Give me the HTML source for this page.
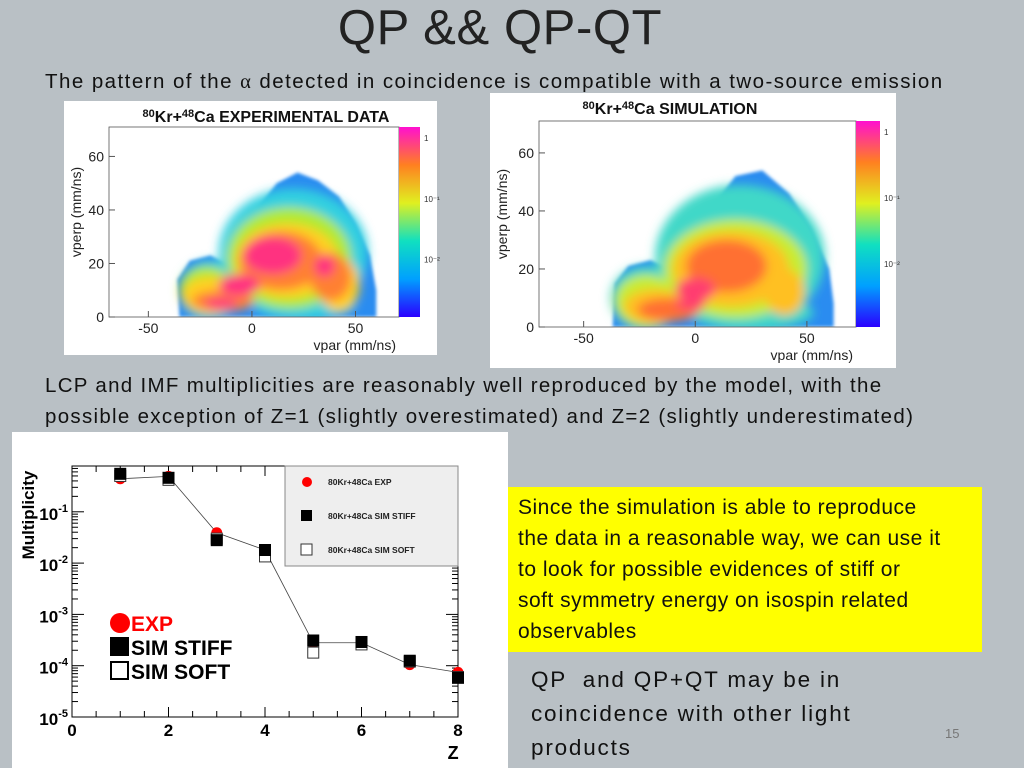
<!DOCTYPE html>
<html><head><meta charset="utf-8"><style>
body{margin:0;width:1024px;height:768px;overflow:hidden;background:#b9c0c5;font-family:"Liberation Sans",sans-serif;position:relative}
.t{position:absolute;color:#111;font-size:20.5px;letter-spacing:1.45px;white-space:nowrap}
</style></head><body>
<div style="position:absolute;left:0;width:1000px;top:0px;text-align:center;font-size:49px;color:#222;letter-spacing:0.6px">QP &amp;&amp; QP-QT</div>
<div class="t" style="left:45px;top:70px">The pattern of the <span style="font-family:'Liberation Serif',serif">α</span> detected in coincidence is compatible with a two-source emission</div>
<div class="t" style="left:45px;top:370px;line-height:31px;letter-spacing:1.3px">LCP and IMF multiplicities are reasonably well reproduced by the model, with the<br>possible exception of Z=1 (slightly overestimated) and Z=2 (slightly underestimated)</div>
<div style="position:absolute;left:508px;top:487px;width:474px;height:165px;background:#ffff00"></div>
<div class="t" style="left:518px;top:492px;line-height:31px;font-size:21px;letter-spacing:0.5px">Since the simulation is able to reproduce<br>the data in a reasonable way, we can use it<br>to look for possible evidences of stiff or<br>soft symmetry energy on isospin related<br>observables</div>
<div class="t" style="left:531px;top:663px;line-height:34px;font-size:22.5px;letter-spacing:1.8px">QP &nbsp;and QP+QT may be in<br>coincidence with other light<br>products</div>
<div style="position:absolute;left:945px;top:726px;font-size:13px;color:#777">15</div>

<svg id="s" width="1024" height="768" style="position:absolute;left:0;top:0">
<defs>
<filter id="bl" x="-50%" y="-50%" width="200%" height="200%"><feGaussianBlur stdDeviation="5"/></filter>
<filter id="bl2" x="-20%" y="-20%" width="140%" height="140%"><feGaussianBlur stdDeviation="1.5"/></filter>
<linearGradient id="cb" x1="0" y1="1" x2="0" y2="0">
<stop offset="0" stop-color="#2a00ff"/><stop offset="0.2" stop-color="#00a0ff"/><stop offset="0.4" stop-color="#10e0c0"/><stop offset="0.6" stop-color="#e0f020"/><stop offset="0.8" stop-color="#ff8020"/><stop offset="1" stop-color="#ff10d0"/></linearGradient>
</defs>
</svg>
<script>
// heatmap data (vpar, vperp in mm/ns)
const envExp=[[-35,0],[-36,14],[-30,21],[-20,23],[-8,18],[-3,30],[4,42],[12,50],[22,54],[32,51],[42,45],[50,35],[57,23],[60,10],[60,0]];
const envSim=[[-37,0],[-36,15],[-30,21],[-20,23],[-6,18],[0,30],[8,42],[18,52],[30,54],[42,46],[52,34],[60,20],[62,8],[62,0]];
const layersExp=[
 {c:"#30d0e0",b:[[20,24,36,24],[-20,10,15,11],[25,5,25,6]]},
 {c:"#b0ea30",b:[[18,22,30,19],[-22,10,13,9]]},
 {c:"#ffd020",b:[[17,21,25,14],[-20,8,14,7],[42,12,10,10]]},
 {c:"#ff8030",b:[[14,21,20,11],[-14,6,15,4],[38,15,10,9]]},
 {c:"#ff3080",b:[[10,23,14,7],[-6,12,10,4],[35,19,5,4],[-15,5,8,2]]}];
const layersSim=[
 {c:"#40d8c8",b:[[20,24,38,25],[-22,10,16,11],[25,5,28,6]]},
 {c:"#c8ec30",b:[[18,20,32,17],[-22,9,14,9]]},
 {c:"#ffc020",b:[[16,20,26,13],[-18,7,14,6],[40,12,9,8]]},
 {c:"#ff7030",b:[[14,21,18,9],[-12,6,14,4]]},
 {c:"#ff3c70",b:[[0,13,9,4],[-2,8,7,2]]}];
const xTicks=[-50,0,50], yTicks=[0,20,40,60];
// multiplicity data
const zVals=[1,2,3,4,5,6,7,8];
const multExp=[0.44,0.49,0.039,0.018,2.8e-4,2.8e-4,1.05e-4,7.4e-5];
const multStiff=[0.55,0.46,0.028,0.018,3.1e-4,2.9e-4,1.25e-4,5.8e-5];
const multSoft=[0.5,0.42,0.03,0.0135,1.8e-4,2.6e-4,1.2e-4,6e-5];
const zTicks=[0,2,4,6,8];
const decades=[-5,-4,-3,-2,-1];

const S=document.getElementById('s'),NS="http://www.w3.org/2000/svg";
function mk(t,a,p){const e=document.createElementNS(NS,t);for(const k in a)e.setAttribute(k,a[k]);(p||S).appendChild(e);return e;}

function heat(o){
 const g=mk('g',{});
 
 
 mk('rect',{x:o.bx,y:o.by,width:o.bw,height:o.bh,fill:'#fff'},g);
 const X=v=>o.x0+(v-o.xmin)*(o.x1-o.x0)/(o.xmax-o.xmin), Y=v=>o.y0-(v)*(o.y0-o.y1)/o.ymax;
 const cid='c'+o.name; const cp=mk('clipPath',{id:cid},g); mk('rect',{x:o.x0,y:o.y1,width:o.x1-o.x0,height:o.y0-o.y1},cp);
 const hg=mk('g',{'clip-path':'url(#'+cid+')'},g);
 const pts=o.env.map(p=>X(p[0])+','+Y(p[1])).join(' ');
 const env=mk('polygon',{points:pts,fill:'#2a8cf0',filter:'url(#bl2)'},hg);
 
 const inner=mk('g',{filter:'url(#bl)'},hg);
 o.layers.forEach(L=>L.b.forEach(b=>{const e=mk('ellipse',{cx:X(b[0]),cy:Y(b[1]),rx:b[2]*(o.x1-o.x0)/(o.xmax-o.xmin),ry:b[3]*(o.y0-o.y1)/o.ymax,fill:L.c},inner);}));
 mk('rect',{x:o.x0,y:o.y1,width:o.x1-o.x0,height:o.y0-o.y1,fill:'none',stroke:'#555','stroke-width':0.8},g);
 mk('rect',{x:o.x1,y:o.y1,width:o.cbw,height:o.y0-o.y1,fill:'url(#cb)'},g);
 ['1','10\u207B\u00B9','10\u207B\u00B2'].forEach((s,i)=>{const t=mk('text',{x:o.x1+o.cbw+4,y:o.y1+14+i*(o.y0-o.y1)*0.32,'font-size':8,fill:'#333'},g);t.textContent=s;});
 xTicks.forEach(v=>{mk('line',{x1:X(v),x2:X(v),y1:o.y0,y2:o.y0-6,stroke:'#555'},g);const t=mk('text',{x:X(v),y:o.y0+16,'font-size':14,'text-anchor':'middle',fill:'#222'},g);t.textContent=v;});
 yTicks.forEach(v=>{mk('line',{x1:o.x0,x2:o.x0+6,y1:Y(v),y2:Y(v),stroke:'#555'},g);const t=mk('text',{x:o.x0-5,y:Y(v)+5,'font-size':14,'text-anchor':'end',fill:'#222'},g);t.textContent=v;});
 let t=mk('text',{x:o.x1-3,y:o.y0+33,'font-size':14,'text-anchor':'end',fill:'#222'},g);t.textContent='vpar (mm/ns)';
 t=mk('text',{x:0,y:0,'font-size':14,'text-anchor':'middle',fill:'#222',transform:`translate(${o.bx+17},${(o.y0+o.y1)/2-10}) rotate(-90)`},g);t.textContent='vperp (mm/ns)';
 t=mk('text',{x:o.tx,y:o.ty,'font-size':16,'font-weight':'bold',fill:'#111','text-anchor':'middle'},g);
 t.innerHTML='<tspan font-size="11" dy="-5">80</tspan><tspan dy="5">Kr+</tspan><tspan font-size="11" dy="-5">48</tspan><tspan dy="5">Ca '+o.title+'</tspan>';
}
heat({name:'exp-heatmap',bx:64,by:101,bw:373,bh:254,x0:109,x1:399,y0:317,y1:127,xmin:-69,xmax:71,ymax:71,cbw:21,env:envExp,layers:layersExp,tx:266,ty:122,title:'EXPERIMENTAL DATA'});
heat({name:'sim-heatmap',bx:490,by:93,bw:406,bh:275,x0:539,x1:856,y0:327,y1:121,xmin:-70,xmax:72,ymax:71,cbw:24,env:envSim,layers:layersSim,tx:670,ty:114,title:'SIMULATION'});

// multiplicity chart
(function(){
 const g=mk('g',{});
 
 
 mk('rect',{x:12,y:432,width:496,height:336,fill:'#fff'},g);
 const x0=72,x1=458,y1=466,y0=717;
 const X=z=>x0+z*(x1-x0)/8, Y=v=>y0-(Math.log10(v)+5)*51.3;
 mk('rect',{x:x0,y:y1,width:x1-x0,height:y0-y1,fill:'none',stroke:'#000','stroke-width':1},g);
 for(let z=0;z<=8;z+=0.5){const l=z%2==0?10:6;mk('line',{x1:X(z),x2:X(z),y1:y0,y2:y0-l,stroke:'#000'},g);mk('line',{x1:X(z),x2:X(z),y1:y1,y2:y1+l,stroke:'#000'},g);}
 decades.forEach(d=>{for(let m=1;m<10;m++){const v=m*Math.pow(10,d),yy=Y(v);if(yy<y1)continue;const l=m==1?12:6;mk('line',{x1:x0,x2:x0+l,y1:yy,y2:yy,stroke:'#000'},g);mk('line',{x1:x1,x2:x1-l,y1:yy,y2:yy,stroke:'#000'},g);}
  const t=mk('text',{x:x0-4,y:Y(Math.pow(10,d))+8,'font-size':17,'font-weight':'bold','text-anchor':'end'},g);t.innerHTML='10<tspan font-size="11" dy="-8">'+d+'</tspan>';});
 zTicks.forEach(z=>{const t=mk('text',{x:X(z),y:y0+19,'font-size':17,'font-weight':'bold','text-anchor':'middle'},g);t.textContent=z;});
 let t=mk('text',{x:X(7.9),y:y0+42,'font-size':18,'font-weight':'bold','text-anchor':'middle'},g);t.textContent='Z';
 t=mk('text',{x:0,y:0,'font-size':17,'font-weight':'bold','text-anchor':'middle',transform:'translate(34,515) rotate(-90)'},g);t.textContent='Multiplicity';
 mk('polyline',{points:zVals.map((z,i)=>X(z)+','+Y(multExp[i])).join(' '),fill:'none',stroke:'#444','stroke-width':0.8},g);
 zVals.forEach((z,i)=>{let e=mk('circle',{cx:X(z),cy:Y(multExp[i]),r:5.5,fill:'#f00'},g);});
 zVals.forEach((z,i)=>{let e=mk('rect',{x:X(z)-5.5,y:Y(multSoft[i])-5.5,width:11,height:11,fill:'#fff',stroke:'#333'},g);});
 zVals.forEach((z,i)=>{let e=mk('rect',{x:X(z)-6,y:Y(multStiff[i])-6,width:12,height:12,fill:'#000'},g);});
 const lg=mk('g',{},g);
 
 
 mk('rect',{x:285,y:466,width:173,height:100,fill:'#eee',stroke:'#888'},lg);
 mk('circle',{cx:307,cy:482,r:5,fill:'#f00'},lg);
 mk('rect',{x:301,y:510,width:11,height:11,fill:'#000'},lg);
 mk('rect',{x:301,y:544,width:11,height:11,fill:'#fff',stroke:'#333'},lg);
 ['80Kr+48Ca EXP','80Kr+48Ca SIM STIFF','80Kr+48Ca SIM SOFT'].forEach((s,i)=>{const t=mk('text',{x:328,y:485+i*34,'font-size':8.5,'font-weight':'bold',fill:'#222'},lg);t.textContent=s;});
 mk('circle',{cx:120,cy:623,r:10,fill:'#f00'},g);
 t=mk('text',{x:131,y:631,'font-size':21,'font-weight':'bold',fill:'#f00'},g);t.textContent='EXP';
 mk('rect',{x:110,y:637,width:19,height:19,fill:'#000'},g);
 t=mk('text',{x:131,y:655,'font-size':21,'font-weight':'bold'},g);t.textContent='SIM STIFF';
 mk('rect',{x:111,y:662,width:17,height:17,fill:'#fff',stroke:'#000','stroke-width':2},g);
 t=mk('text',{x:131,y:679,'font-size':21,'font-weight':'bold'},g);t.textContent='SIM SOFT';
})();
</script>
</body></html>
